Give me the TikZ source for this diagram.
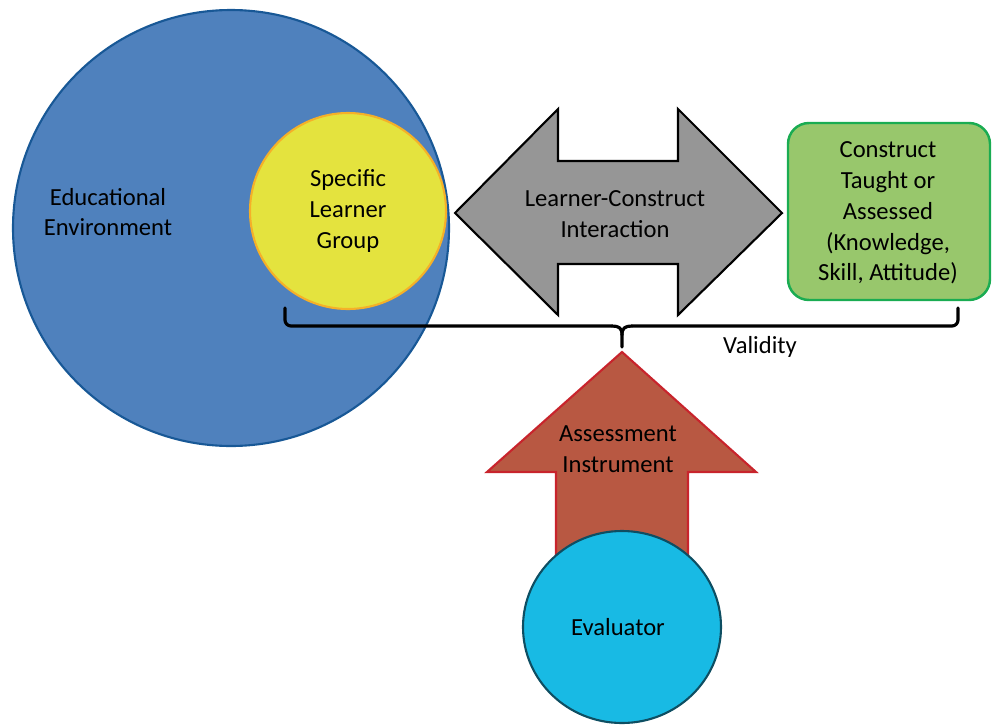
\documentclass[tikz,border=0pt]{standalone}
\usepackage{fontspec}
\setmainfont{Carlito}
\usetikzlibrary{shapes.geometric}

\definecolor{envfill}{RGB}{79,129,189}
\definecolor{envline}{RGB}{24,88,150}
\definecolor{groupfill}{RGB}{228,227,62}
\definecolor{groupline}{RGB}{245,176,40}
\definecolor{arrowgray}{RGB}{150,150,150}
\definecolor{boxfill}{RGB}{152,199,108}
\definecolor{boxline}{RGB}{26,172,82}
\definecolor{instfill}{RGB}{184,88,66}
\definecolor{instline}{RGB}{200,36,44}
\definecolor{evalfill}{RGB}{24,186,228}
\definecolor{evalline}{RGB}{14,78,98}

\tikzset{
  label text/.style={font=\fontsize{14pt}{17.5pt}\selectfont, align=center, text=black, inner sep=0pt},
  round shape/.style={circle, inner sep=0pt},
  bracket/.style={line width=1.8pt, line cap=round, line join=round},
}

\begin{document}
\begin{tikzpicture}[x=0.02cm, y=-0.02cm]
  \useasboundingbox (0,0) rectangle (994,724);

  % educational environment and learner group
  \node[round shape, fill=envfill, draw=envline, line width=1.2pt, minimum size=436*0.02cm] (env) at (231,228) {};
  \node[round shape, fill=groupfill, draw=groupline, line width=1.2pt, minimum size=196*0.02cm] (group) at (348,211) {};

  % two-headed interaction arrow
  \draw[fill=arrowgray, draw=black, line width=1.2pt, line join=miter]
    (455,213) -- (558,109) -- (558,161) -- (678,161) -- (678,109) -- (782,213)
    -- (678,315) -- (678,264) -- (558,264) -- (558,315) -- cycle;

  % construct box
  \node[draw=boxline, fill=boxfill, line width=1.4pt, rounded corners=0.42cm,
        minimum width=202*0.02cm, minimum height=177*0.02cm, inner sep=0pt] (construct) at (889,211.5) {};

  % validity bracket
  \coordinate (bl) at (285,308);
  \coordinate (br) at (958,308);
  \coordinate (bm) at (622,347);
  \draw[bracket, rounded corners=0.12cm] (bl) -- (285,326) -- (612,326);
  \draw[bracket] (612,326) .. controls (619,326) and (622,328) .. (622,335) -- (bm);
  \draw[bracket, rounded corners=0.12cm] (br) -- (958,326) -- (632,326);
  \draw[bracket] (632,326) .. controls (625,326) and (622,328) .. (622,335);

  % assessment instrument arrow
  \draw[fill=instfill, draw=instline, line width=1.2pt, line join=miter]
    (622,352) -- (756,472) -- (688,472) -- (688,600) -- (556,600) -- (556,472) -- (487,472) -- cycle;

  % evaluator
  \node[ellipse, inner sep=0pt, fill=evalfill, draw=evalline, line width=1.2pt,
        minimum width=198*0.02cm, minimum height=192*0.02cm] (evaluator) at (622,627) {};

  % labels
  \node[label text] (envtext) at (108,212) {Educational\\Environment};
  \node[label text] (grouptext) at (348,211) {Specific\\Learner\\Group};
  \node[label text] (interaction) at (615,214) {Learner-Construct\\Interaction};
  \node[label text] (constructtext) at (888,213) {Construct\\Taught or\\Assessed\\(Knowledge,\\Skill, Attitude)};
  \node[label text] (validity) at (760,347) {Validity};
  \node[label text] (insttext) at (618,449) {Assessment\\Instrument};
  \node[label text] (evaltext) at (618,627) {Evaluator};
\end{tikzpicture}
\end{document}
